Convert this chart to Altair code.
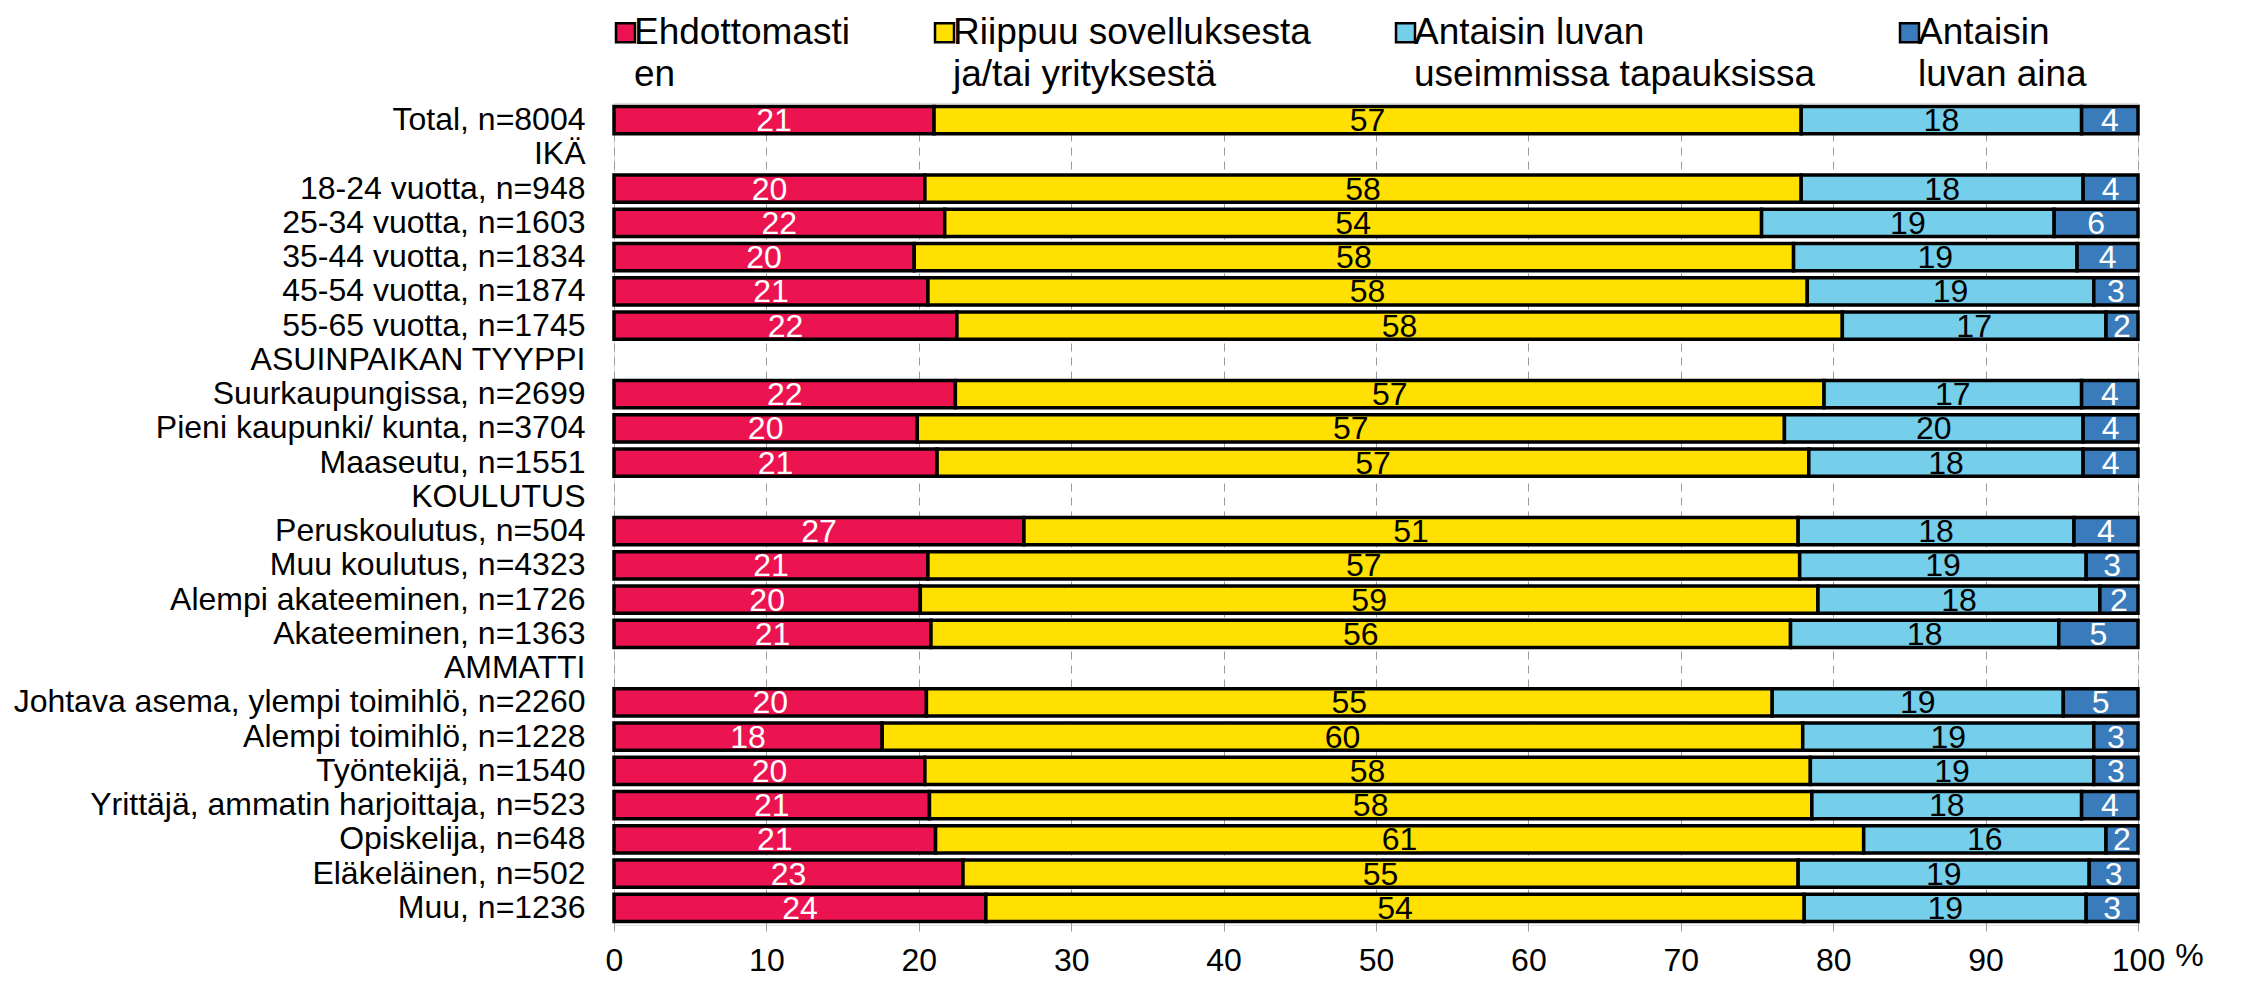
import altair as alt
import pandas as pd

FONT = "Liberation Sans"

categories = [
    "Total, n=8004", "IKÄ",
    "18-24 vuotta, n=948", "25-34 vuotta, n=1603", "35-44 vuotta, n=1834",
    "45-54 vuotta, n=1874", "55-65 vuotta, n=1745",
    "ASUINPAIKAN TYYPPI",
    "Suurkaupungissa, n=2699", "Pieni kaupunki/ kunta, n=3704", "Maaseutu, n=1551",
    "KOULUTUS",
    "Peruskoulutus, n=504", "Muu koulutus, n=4323", "Alempi akateeminen, n=1726",
    "Akateeminen, n=1363",
    "AMMATTI",
    "Johtava asema, ylempi toimihlö, n=2260", "Alempi toimihlö, n=1228",
    "Työntekijä, n=1540", "Yrittäjä, ammatin harjoittaja, n=523",
    "Opiskelija, n=648", "Eläkeläinen, n=502", "Muu, n=1236",
]

bar_rows = [
    "Total, n=8004",
    "18-24 vuotta, n=948", "25-34 vuotta, n=1603", "35-44 vuotta, n=1834",
    "45-54 vuotta, n=1874", "55-65 vuotta, n=1745",
    "Suurkaupungissa, n=2699", "Pieni kaupunki/ kunta, n=3704", "Maaseutu, n=1551",
    "Peruskoulutus, n=504", "Muu koulutus, n=4323", "Alempi akateeminen, n=1726",
    "Akateeminen, n=1363",
    "Johtava asema, ylempi toimihlö, n=2260", "Alempi toimihlö, n=1228",
    "Työntekijä, n=1540", "Yrittäjä, ammatin harjoittaja, n=523",
    "Opiskelija, n=648", "Eläkeläinen, n=502", "Muu, n=1236",
]

series = [
    "Ehdottomasti en",
    "Riippuu sovelluksesta ja/tai yrityksestä",
    "Antaisin luvan useimmissa tapauksissa",
    "Antaisin luvan aina",
]
colors = ["#EB1450", "#FFE000", "#75CFEA", "#3A7CBB"]
text_colors = ["white", "black", "black", "white"]

# segment widths (%)
v_ehd = [21.0, 20.4, 21.7, 19.7, 20.6, 22.5, 22.4, 19.9, 21.2, 26.9, 20.6, 20.1, 20.8,
         20.5, 17.6, 20.4, 20.7, 21.1, 22.9, 24.4]
v_rii = [56.9, 57.5, 53.6, 57.7, 57.7, 58.1, 57.0, 56.9, 57.2, 50.8, 57.2, 58.9, 56.4,
         55.5, 60.4, 58.1, 57.9, 60.9, 54.8, 53.7]
v_ant = [18.4, 18.5, 19.2, 18.6, 18.8, 17.3, 16.9, 19.6, 18.0, 18.1, 18.8, 18.5, 17.6,
         19.1, 19.1, 18.6, 17.7, 15.9, 19.1, 18.5]
v_aina = [3.7, 3.6, 5.5, 4.0, 2.9, 2.1, 3.7, 3.6, 3.6, 4.2, 3.4, 2.5, 5.2,
          4.9, 2.9, 2.9, 3.7, 2.1, 3.2, 3.4]

# printed labels
l_ehd = [21, 20, 22, 20, 21, 22, 22, 20, 21, 27, 21, 20, 21, 20, 18, 20, 21, 21, 23, 24]
l_rii = [57, 58, 54, 58, 58, 58, 57, 57, 57, 51, 57, 59, 56, 55, 60, 58, 58, 61, 55, 54]
l_ant = [18, 18, 19, 19, 19, 17, 17, 20, 18, 18, 19, 18, 18, 19, 19, 19, 18, 16, 19, 19]
l_aina = [4, 4, 6, 4, 3, 2, 4, 4, 4, 4, 3, 2, 5, 5, 3, 3, 4, 2, 3, 3]

values = [v_ehd, v_rii, v_ant, v_aina]
labels = [l_ehd, l_rii, l_ant, l_aina]

rows = []
for i, cat in enumerate(bar_rows):
    for j, s in enumerate(series):
        rows.append({
            "cat": cat, "series": s, "ord": j,
            "value": values[j][i], "label": str(labels[j][i]),
            "tcolor": text_colors[j],
        })
df = pd.DataFrame(rows)

legend_expr = (
    "{'Ehdottomasti en': ['Ehdottomasti', 'en'],"
    " 'Riippuu sovelluksesta ja/tai yrityksestä': ['Riippuu sovelluksesta', 'ja/tai yrityksestä'],"
    " 'Antaisin luvan useimmissa tapauksissa': ['Antaisin luvan', 'useimmissa tapauksissa'],"
    " 'Antaisin luvan aina': ['Antaisin', 'luvan aina']}[datum.label]"
)

y_scale = alt.Scale(domain=categories, paddingInner=0.2, paddingOuter=0.1)
y_enc = alt.Y(
    "cat:N",
    scale=y_scale,
    axis=alt.Axis(title=None, labelFontSize=32, labelFont=FONT, labelColor="black",
                  labelPadding=29, domain=False, ticks=False, labelLimit=1000),
)

x_scale = alt.Scale(domain=[0, 100], nice=False, zero=True)

base = alt.Chart(df).transform_stack(
    stack="value", groupby=["cat"], as_=["x0", "x1"],
    sort=[alt.SortField("ord", order="ascending")],
).transform_calculate(mid="(datum.x0 + datum.x1) / 2")

bars = base.mark_bar(stroke="black", strokeWidth=3.5).encode(
    x=alt.X("x0:Q", scale=x_scale,
            axis=alt.Axis(values=list(range(0, 101, 10)), grid=True, gridDash=[8, 6],
                          gridColor="#9a9a9a", gridWidth=1, domain=False,
                          tickColor="#9a9a9a", tickSize=6, labelFontSize=32,
                          labelFont=FONT, labelColor="black", labelPadding=14,
                          labelFlush=False,
                          title="%", titleX=1575, titleY=30, titleAngle=0,
                          titleFontWeight="normal", titleFontSize=32, titleFont=FONT,
                          titleColor="black", titleBaseline="middle", titleAlign="center")),
    x2="x1:Q",
    y=y_enc,
    color=alt.Color(
        "series:N",
        scale=alt.Scale(domain=series, range=colors),
        legend=alt.Legend(
            title=None, orient="none", legendX=-7, legendY=-89,
            direction="horizontal", columns=4, columnPadding=76,
            symbolType="square", symbolSize=360, symbolStrokeColor="black",
            symbolStrokeWidth=2.5, symbolOpacity=1,
            labelFontSize=37, labelFont=FONT, labelColor="black",
            labelOffset={"expr": "-10"}, labelLimit=1000, labelExpr=legend_expr, padding=0,
        ),
    ),
    order=alt.Order("ord:Q"),
)

texts = base.mark_text(fontSize=32, font=FONT, baseline="middle", align="center", dy=1).encode(
    x=alt.X("mid:Q", scale=x_scale),
    y=alt.Y("cat:N", scale=y_scale),
    text="label:N",
    color=alt.Color("tcolor:N", scale=None),
)

chart = alt.layer(bars, texts).properties(
    width=1524, height=822,
    padding={"left": 606, "top": 95, "right": 80, "bottom": 55},
    autosize=alt.AutoSizeParams(type="none"),
).configure_view(stroke=None).configure(
    font=FONT, style={"guide-label": {"lineHeight": 42}}
)

chart.save("out.html", embed_options={"renderer": "svg", "actions": False})
